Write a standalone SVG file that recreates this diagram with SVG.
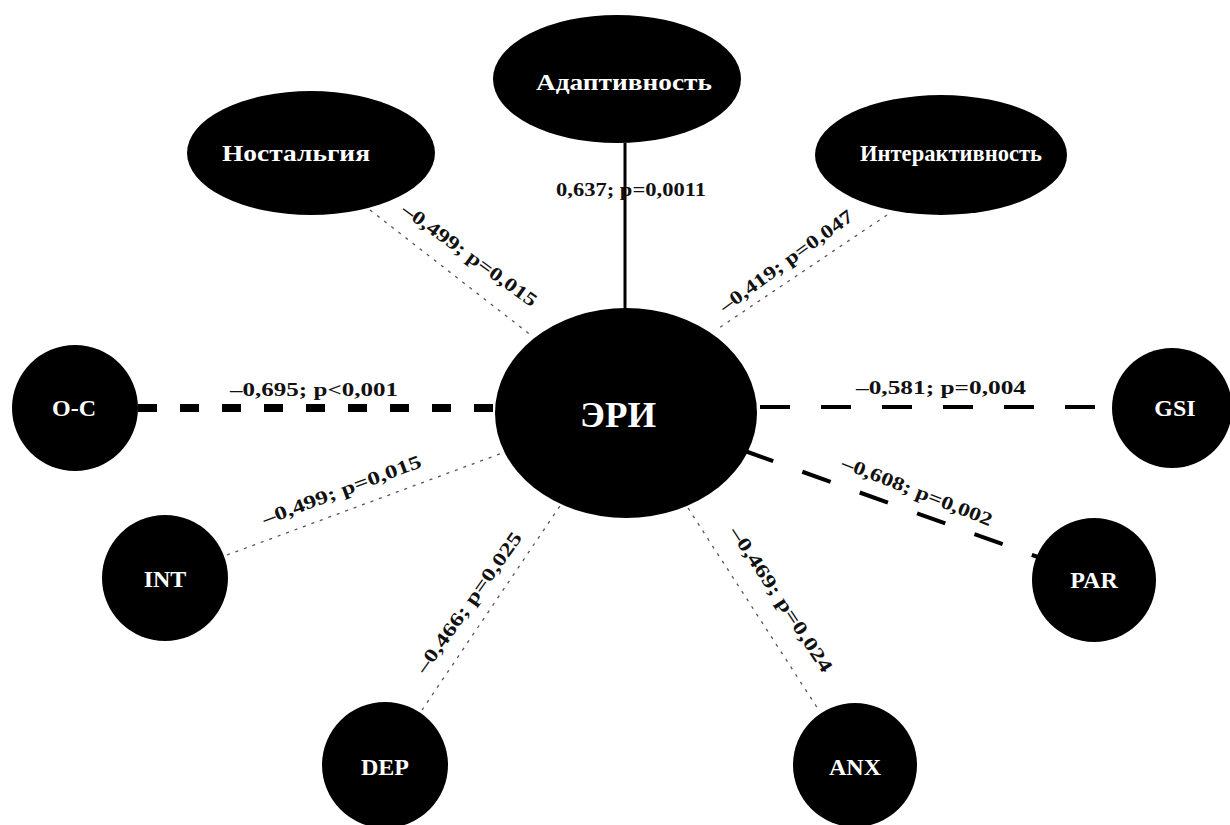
<svg xmlns="http://www.w3.org/2000/svg" width="1230" height="825" viewBox="0 0 1230 825">
  <style>
    .node { fill: #000; }
    .nlabel { fill: #fff; font-family: "Liberation Serif", "Times New Roman", serif; font-weight: bold; text-anchor: middle; dominant-baseline: central; }
    .elabel { fill: #111; font-family: "Liberation Serif", "Times New Roman", serif; font-weight: bold; font-size: 19px; text-anchor: middle; }
    .solid { stroke: #000; stroke-width: 3; fill: none; }
    .dotted { stroke: #555; stroke-width: 1.3; stroke-dasharray: 3 6; fill: none; }
    .heavy { stroke: #000; stroke-width: 8; stroke-dasharray: 19 23; fill: none; }
    .medium { stroke: #000; stroke-width: 4; stroke-dasharray: 30 31; fill: none; }
  </style>
  <rect width="1230" height="825" fill="#fff"/>

  <!-- correlation links -->
  <g id="connectors">
    <line class="solid" x1="625" y1="143" x2="625" y2="310"/>
    <line class="dotted" x1="370" y1="210" x2="532" y2="336"/>
    <line class="dotted" x1="887" y1="215" x2="716" y2="330"/>
    <line class="heavy" x1="138" y1="408" x2="497" y2="408"/>
    <line class="medium" x1="760" y1="407" x2="1112" y2="407"/>
    <line class="medium" x1="745" y1="451" x2="1038" y2="557"/>
    <line class="dotted" x1="227" y1="555" x2="505" y2="452"/>
    <line class="dotted" x1="422" y1="710" x2="562" y2="503"/>
    <line class="dotted" x1="688" y1="508" x2="820" y2="712"/>

    <text class="elabel" x="631" y="196" textLength="150" lengthAdjust="spacingAndGlyphs">0,637; p=0,0011</text>
    <text class="elabel" transform="translate(466,260) rotate(36)" textLength="162" lengthAdjust="spacingAndGlyphs">–0,499; p=0,015</text>
    <text class="elabel" transform="translate(790,266) rotate(-36)" textLength="160" lengthAdjust="spacingAndGlyphs">–0,419; p=0,047</text>
    <text class="elabel" x="314" y="396" textLength="168" lengthAdjust="spacingAndGlyphs">–0,695; p&lt;0,001</text>
    <text class="elabel" x="941" y="394" textLength="170" lengthAdjust="spacingAndGlyphs">–0,581; p=0,004</text>
    <text class="elabel" transform="translate(915,497) rotate(21.5)" textLength="160" lengthAdjust="spacingAndGlyphs">–0,608; p=0,002</text>
    <text class="elabel" transform="translate(344,496) rotate(-20.5)" textLength="168" lengthAdjust="spacingAndGlyphs">–0,499; p=0,015</text>
    <text class="elabel" transform="translate(474,606) rotate(-54.5)" textLength="168" lengthAdjust="spacingAndGlyphs">–0,466; p=0,025</text>
    <text class="elabel" transform="translate(776,603) rotate(56.5)" textLength="170" lengthAdjust="spacingAndGlyphs">–0,469; p=0,024</text>
  </g>

  <g id="node-eri">
    <ellipse class="node" cx="626" cy="413" rx="131" ry="105"/>
    <text class="nlabel" x="618" y="415" font-size="36" textLength="76" lengthAdjust="spacingAndGlyphs">ЭРИ</text>
  </g>
  <g id="node-adaptivity">
    <ellipse class="node" cx="617" cy="79" rx="124" ry="64"/>
    <text class="nlabel" x="624" y="82" font-size="23" textLength="176" lengthAdjust="spacingAndGlyphs">Адаптивность</text>
  </g>
  <g id="node-nostalgia">
    <ellipse class="node" cx="311" cy="153" rx="124" ry="62"/>
    <text class="nlabel" x="296" y="153" font-size="23" textLength="148" lengthAdjust="spacingAndGlyphs">Ностальгия</text>
  </g>
  <g id="node-interactivity">
    <ellipse class="node" cx="941" cy="155" rx="126" ry="60"/>
    <text class="nlabel" x="951" y="153" font-size="23" textLength="182" lengthAdjust="spacingAndGlyphs">Интерактивность</text>
  </g>
  <g id="node-oc">
    <circle class="node" cx="75" cy="408" r="63"/>
    <text class="nlabel" x="74" y="408" font-size="24">O-C</text>
  </g>
  <g id="node-gsi">
    <circle class="node" cx="1172" cy="408" r="60"/>
    <text class="nlabel" x="1175" y="408" font-size="24">GSI</text>
  </g>
  <g id="node-int">
    <circle class="node" cx="165" cy="578" r="63"/>
    <text class="nlabel" x="165" y="579" font-size="24">INT</text>
  </g>
  <g id="node-par">
    <circle class="node" cx="1094" cy="580" r="62"/>
    <text class="nlabel" x="1094" y="580" font-size="24">PAR</text>
  </g>
  <g id="node-dep">
    <circle class="node" cx="385" cy="765" r="63"/>
    <text class="nlabel" x="385" y="767" font-size="24">DEP</text>
  </g>
  <g id="node-anx">
    <circle class="node" cx="855" cy="765" r="62"/>
    <text class="nlabel" x="855" y="767" font-size="24">ANX</text>
  </g>
</svg>
